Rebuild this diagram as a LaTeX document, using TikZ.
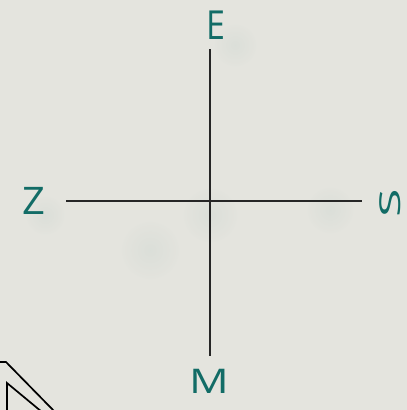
\documentclass[tikz,border=0pt]{standalone}
\usepackage{fontspec}
\setmainfont{Open Sans}
\definecolor{paper}{RGB}{228,228,222}
\definecolor{ink}{RGB}{18,108,102}
\begin{document}
\begin{tikzpicture}[x=1pt,y=-1pt,
  axis/.style={draw=black!85, line width=1.1pt},
  lbl/.style={text=ink, inner sep=0pt, font=\fontsize{40}{40}\selectfont},
  corner/.style={draw=black, line width=1.7pt}]
\fill[paper] (0,0) rectangle (407,410);
\useasboundingbox (0,0) rectangle (407,410);
% faint blotches
\foreach \px/\py/\r in {235/45/22, 45/215/20, 210/215/28, 330/210/24, 150/250/30}
  \shade[inner color=ink!8!paper, outer color=paper, opacity=0.5] (\px,\py) circle (\r);
\coordinate (top) at (210,49);
\coordinate (bot) at (210,356);
\coordinate (lft) at (66,201);
\coordinate (rgt) at (362,201);
\draw[axis] (top) -- (bot);
\draw[axis] (lft) -- (rgt);
\node[lbl, xscale=0.85] (E) at (216,25) {E};
\node[lbl, yscale=0.95] (Z) at (34,201) {Z};
\node[lbl, rotate=90, xscale=1.3, yscale=0.72] (S) at (390,203) {S};
\node[lbl, xscale=1.1, yscale=0.85] (M) at (209,381) {M};
% corner triangles
\coordinate (o1) at (-2,362);
\coordinate (o2) at (6,362);
\coordinate (o3) at (55,412);
\coordinate (i1) at (7,412);
\coordinate (i2) at (7,383);
\coordinate (i3) at (42,412);
\draw[corner] (o1) -- (o2) -- (o3);
\draw[corner] (i1) -- (i2) -- (i3);
\end{tikzpicture}
\end{document}
